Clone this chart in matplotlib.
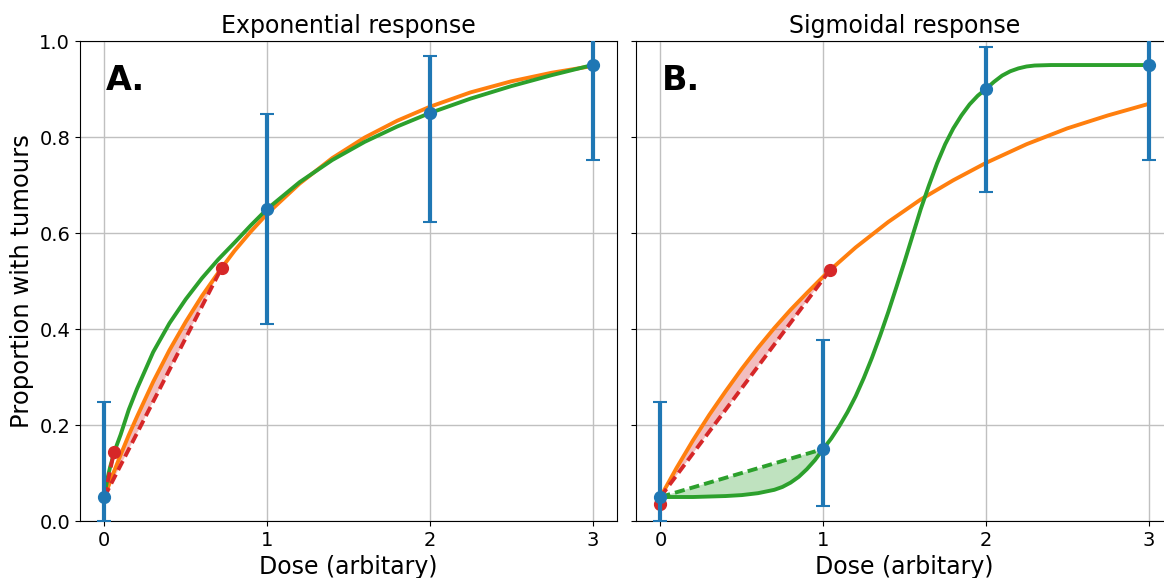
import matplotlib
matplotlib.use('Agg')
import matplotlib.pyplot as plt

# observed data (same doses in both panels)
dose = [0, 1, 2, 3]
prop_a = [0.05, 0.65, 0.85, 0.95]
lo_a = [0.0, 0.41, 0.622, 0.752]
hi_a = [0.247, 0.847, 0.969, 1.02]
prop_b = [0.05, 0.15, 0.90, 0.95]
lo_b = [0.0, 0.032, 0.685, 0.752]
hi_b = [0.247, 0.378, 0.988, 1.02]

# panel A curves
orange_a_x = [0, 0.05, 0.1, 0.15, 0.2, 0.3, 0.4, 0.5, 0.6, 0.72, 0.8, 0.9, 1.0,
              1.2, 1.4, 1.6, 1.8, 2.0, 2.25, 2.5, 2.75, 3.0]
orange_a_y = [0.05, 0.095, 0.138, 0.179, 0.217, 0.290, 0.356, 0.415, 0.469, 0.527, 0.563, 0.603, 0.640,
              0.703, 0.756, 0.799, 0.834, 0.863, 0.893, 0.916, 0.934, 0.948]
green_a_x = [0, 0.01, 0.02, 0.035, 0.05, 0.075, 0.1, 0.15, 0.2, 0.3, 0.4, 0.5, 0.6, 0.7, 0.8, 0.9, 1.0,
             1.2, 1.4, 1.6, 1.8, 2.0, 2.25, 2.5, 2.75, 3.0]
green_a_y = [0.05, 0.072, 0.09, 0.112, 0.13, 0.157, 0.18, 0.232, 0.275, 0.352, 0.412, 0.462, 0.506, 0.545,
             0.58, 0.616, 0.65, 0.706, 0.752, 0.79, 0.822, 0.85, 0.88, 0.906, 0.929, 0.95]
red_a_x = [0.059, 0.72]
red_a_y = [0.143, 0.527]
chord_a_x = [0, 0.72]
chord_a_y = [0.05, 0.527]
short_a_x = [0, 0.059]
short_a_y = [0.05, 0.143]

# panel B curves
orange_b_x = [0, 0.1, 0.2, 0.3, 0.4, 0.5, 0.6, 0.7, 0.8, 0.9, 1.0, 1.04,
              1.2, 1.4, 1.6, 1.8, 2.0, 2.25, 2.5, 2.75, 3.0]
orange_b_y = [0.05, 0.111, 0.168, 0.221, 0.270, 0.317, 0.361, 0.402, 0.440, 0.475, 0.509, 0.522,
              0.570, 0.623, 0.670, 0.710, 0.746, 0.785, 0.818, 0.845, 0.869]
green_b_x = [0, 0.1, 0.2, 0.3, 0.4, 0.5, 0.6, 0.7, 0.75, 0.8, 0.85, 0.9, 0.95, 1.0,
             1.05, 1.1, 1.15, 1.2, 1.25, 1.3, 1.35, 1.4, 1.45, 1.5, 1.55, 1.6, 1.65, 1.7,
             1.75, 1.8, 1.85, 1.9, 1.95, 2.0, 2.05, 2.1, 2.15, 2.2, 2.25, 2.3, 2.4, 2.6, 3.0]
green_b_y = [0.05, 0.05, 0.05, 0.051, 0.052, 0.054, 0.058, 0.065, 0.071, 0.08, 0.092, 0.108, 0.127, 0.15,
             0.172, 0.198, 0.227, 0.26, 0.298, 0.34, 0.386, 0.435, 0.487, 0.54, 0.595, 0.65, 0.699, 0.745,
             0.785, 0.818, 0.845, 0.868, 0.886, 0.90, 0.915, 0.928, 0.937, 0.943, 0.947, 0.949, 0.95, 0.95, 0.95]
red_b_x = [0, 1.04]
red_b_y = [0.035, 0.522]
chord_b_x = [0, 1.04]
chord_b_y = [0.05, 0.522]
gchord_b_x = [0, 1.0]
gchord_b_y = [0.05, 0.15]

blue = '#1f77b4'
orange = '#ff7f0e'
green = '#2ca02c'
red = '#d62728'
lw = 2.8
dash = (2.6, 1.3)

fig = plt.figure(figsize=(11.64, 5.78), dpi=100)
ax1 = fig.add_axes([0.0687, 0.0986, 0.4613, 0.8304])
ax2 = fig.add_axes([0.5464, 0.0986, 0.4613, 0.8304], sharey=ax1)


def errs(p, lo, hi):
    return [[a - b for a, b in zip(p, lo)], [b - a for a, b in zip(p, hi)]]


# --- panel A ---
n = orange_a_x.index(0.72) + 1
ax1.fill(orange_a_x[:n], orange_a_y[:n], color=red, alpha=0.3, lw=0, zorder=2)
ax1.plot(orange_a_x, orange_a_y, color=orange, lw=lw, zorder=3)
ax1.plot(green_a_x, green_a_y, color=green, lw=lw, zorder=3)
ax1.plot(chord_a_x, chord_a_y, color=red, lw=lw, ls='--', dashes=dash, zorder=4)
ax1.plot(short_a_x, short_a_y, color=red, lw=lw, ls='--', dashes=dash, zorder=4)
ax1.plot(red_a_x, red_a_y, 'o', color=red, ms=8.5, zorder=5)
ax1.errorbar(dose, prop_a, yerr=errs(prop_a, lo_a, hi_a), fmt='o', color=blue,
             ms=8.5, elinewidth=3, capsize=5, capthick=1.5, zorder=6)

# --- panel B ---
n = orange_b_x.index(1.04) + 1
ax2.fill(orange_b_x[:n], orange_b_y[:n], color=red, alpha=0.3, lw=0, zorder=2)
n = green_b_x.index(1.0) + 1
ax2.fill(green_b_x[:n], green_b_y[:n], color=green, alpha=0.3, lw=0, zorder=2)
ax2.plot(orange_b_x, orange_b_y, color=orange, lw=lw, zorder=3)
ax2.plot(green_b_x, green_b_y, color=green, lw=lw, zorder=3)
ax2.plot(chord_b_x, chord_b_y, color=red, lw=lw, ls='--', dashes=dash, zorder=4)
ax2.plot(gchord_b_x, gchord_b_y, color=green, lw=lw, ls='--', dashes=dash, zorder=4)
ax2.plot(red_b_x, red_b_y, 'o', color=red, ms=8.5, zorder=5)
ax2.errorbar(dose, prop_b, yerr=errs(prop_b, lo_b, hi_b), fmt='o', color=blue,
             ms=8.5, elinewidth=3, capsize=5, capthick=1.5, zorder=6)

for ax, title, tag in [(ax1, 'Exponential response', 'A.'), (ax2, 'Sigmoidal response', 'B.')]:
    ax.set_xlim(-0.15, 3.15)
    ax.set_ylim(0, 1)
    ax.set_xticks(dose)
    ax.set_yticks([0, 0.2, 0.4, 0.6, 0.8, 1.0])
    ax.grid(True, color='#c0c0c0', lw=1)
    ax.set_axisbelow(True)
    ax.tick_params(labelsize=14)
    ax.set_title(title, fontsize=17)
    ax.set_xlabel('Dose (arbitary)', fontsize=17)
    ax.text(0.048, 0.897, tag, transform=ax.transAxes, fontsize=24, fontweight='bold')

ax1.set_ylabel('Proportion with tumours', fontsize=17.5)
ax2.tick_params(labelleft=False)

plt.savefig('out.png', dpi=100)
